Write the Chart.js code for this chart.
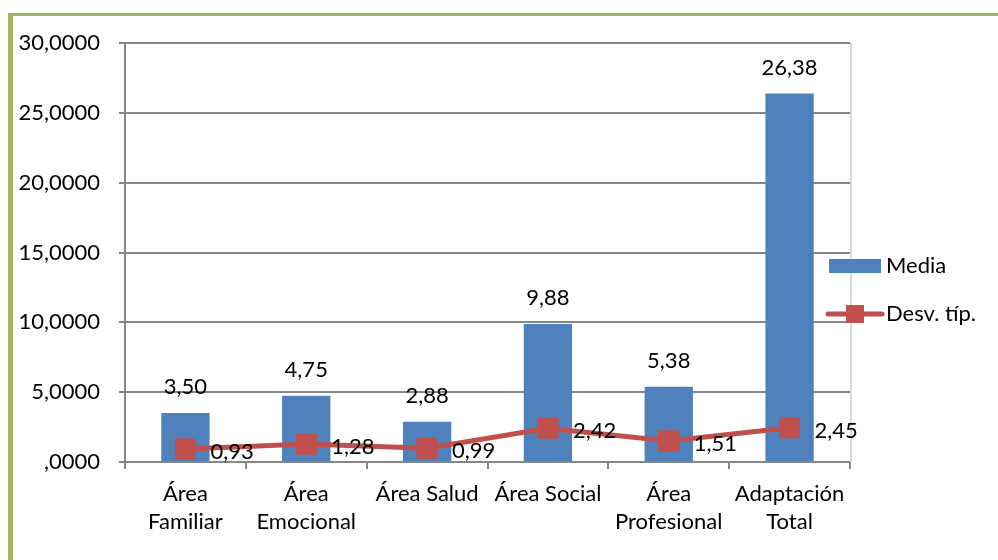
<!DOCTYPE html>
<html>
<head>
<meta charset="utf-8">
<script src="https://cdn.jsdelivr.net/npm/chart.js@4.4.1/dist/chart.umd.min.js"></script>
<style>
  body { margin: 0; background: #fff; }
  #wrap { position: relative; width: 998px; height: 560px; }
  #frame { position: absolute; left: 8px; top: 13px; right: 0; bottom: 0;
           border-left: 5px solid #9BBB59; border-top: 3px solid #9BBB59; pointer-events: none; }
  canvas { position: absolute; left: 0; top: 0; }
</style>
</head>
<body>
<div id="wrap">
  <canvas id="chart" width="998" height="560"></canvas>
  <div id="frame"></div>
</div>
<script>
const categories = [['Área', 'Familiar'], ['Área', 'Emocional'], 'Área Salud', 'Área Social', ['Área', 'Profesional'], ['Adaptación', 'Total']];
const media = [3.50, 4.75, 2.88, 9.88, 5.38, 26.38];
const desv = [0.93, 1.28, 0.99, 2.42, 1.51, 2.45];
const yTicks = [0, 5, 10, 15, 20, 25, 30];

const FONT = 'Lato, "Noto Sans", sans-serif';
const FS = 22;
const fmt = v => v.toFixed(2).replace('.', ',');

const labelPlugin = {
    id: 'labels',
    afterDatasetsDraw(chart) {
        const ctx = chart.ctx;
        ctx.save();
        ctx.font = FS + 'px ' + FONT;
        ctx.fillStyle = '#000';
        ctx.textBaseline = 'middle';
        chart.getDatasetMeta(0).data.forEach((el, i) => {
            ctx.textAlign = 'center';
            ctx.fillText(fmt(media[i]), el.x, el.y - 26);
        });
        chart.getDatasetMeta(1).data.forEach((el, i) => {
            ctx.textAlign = 'left';
            ctx.fillText(fmt(desv[i]), el.x + 25, el.y + 3);
        });
        // legend
        const x0 = chart.chartArea.right - 21;
        ctx.fillStyle = '#4F81BD';
        ctx.fillRect(x0, 259, 52, 14);
        ctx.strokeStyle = '#C0504D';
        ctx.lineWidth = 5;
        ctx.lineCap = 'round';
        ctx.beginPath();
        ctx.moveTo(x0 - 1, 314);
        ctx.lineTo(x0 + 53, 314);
        ctx.stroke();
        ctx.fillStyle = '#C0504D';
        ctx.fillRect(x0 + 17, 305, 18, 18);
        ctx.fillStyle = '#000';
        ctx.textAlign = 'left';
        ctx.fillText('Media', x0 + 57, 266);
        ctx.fillText('Desv. típ.', x0 + 57, 314);
        ctx.restore();
    },
    beforeDatasetsDraw(chart) {
        const { ctx, chartArea } = chart;
        ctx.save();
        ctx.strokeStyle = '#D9D9D9';
        ctx.lineWidth = 2;
        ctx.beginPath();
        ctx.moveTo(chartArea.right + 1, chartArea.top);
        ctx.lineTo(chartArea.right + 1, chartArea.bottom);
        ctx.stroke();
        ctx.restore();
    }
};

new Chart(document.getElementById('chart'), {
    data: {
        labels: categories,
        datasets: [{
            type: 'bar',
            label: 'Media',
            data: media,
            backgroundColor: '#4F81BD',
            barPercentage: 0.4,
            categoryPercentage: 1,
            order: 1
        }, {
            type: 'line',
            label: 'Desv. típ.',
            data: desv,
            borderColor: '#C0504D',
            borderWidth: 5,
            backgroundColor: '#C0504D',
            pointStyle: 'rect',
            pointRadius: 15,
            pointBorderWidth: 0,
            fill: false,
            tension: 0,
            order: 0
        }]
    },
    options: {
        responsive: false,
        animation: false,
        layout: { padding: { top: 43, right: 148, left: 0, bottom: 0 } },
        plugins: { legend: { display: false }, tooltip: { enabled: false } },
        scales: {
            x: {
                grid: { offset: true, drawOnChartArea: false, color: '#868686', lineWidth: 2, tickLength: 7 },
                border: { color: '#868686', width: 2 },
                ticks: { color: '#000', font: { family: FONT, size: FS, lineHeight: 1.27 }, padding: 11, maxRotation: 0, autoSkip: false },
                afterFit: s => { s.height = 98; }
            },
            y: {
                min: 0,
                max: 30,
                afterBuildTicks: s => { s.ticks = yTicks.map(v => ({ value: v })); },
                grid: { color: '#868686', lineWidth: 2, tickLength: 6 },
                border: { color: '#868686', width: 2 },
                ticks: {
                    color: '#000',
                    font: { family: FONT, size: FS },
                    padding: 19,
                    callback: v => v === 0 ? ',0000' : v.toFixed(4).replace('.', ',')
                },
                afterFit: s => { s.width = 125; }
            }
        }
    },
    plugins: [labelPlugin]
});
</script>
</body>
</html>
